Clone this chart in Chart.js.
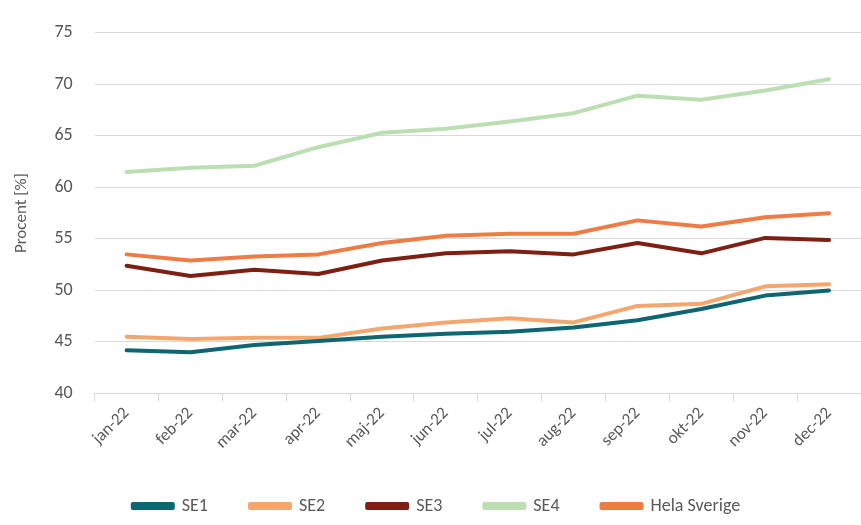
<!DOCTYPE html>
<html>
<head>
<meta charset="utf-8">
<script src="https://cdn.jsdelivr.net/npm/chart.js@4.4.0/dist/chart.umd.min.js"></script>
<style>
  html, body { margin: 0; padding: 0; background: #fff; }
  #wrap { width: 861px; height: 525px; }
</style>
</head>
<body>
<div id="wrap"><canvas id="chart" width="861" height="525"></canvas></div>
<script>
var months = ['jan-22', 'feb-22', 'mar-22', 'apr-22', 'maj-22', 'jun-22', 'jul-22', 'aug-22', 'sep-22', 'okt-22', 'nov-22', 'dec-22'];
var se1 = [44.2, 44.0, 44.7, 45.1, 45.5, 45.8, 46.0, 46.4, 47.1, 48.2, 49.5, 50.0];
var se2 = [45.5, 45.3, 45.4, 45.4, 46.3, 46.9, 47.3, 46.9, 48.5, 48.7, 50.4, 50.6];
var se3 = [52.4, 51.4, 52.0, 51.6, 52.9, 53.6, 53.8, 53.5, 54.6, 53.6, 55.1, 54.9];
var se4 = [61.5, 61.9, 62.1, 63.9, 65.3, 65.7, 66.4, 67.2, 68.9, 68.5, 69.4, 70.5];
var hela = [53.5, 52.9, 53.3, 53.5, 54.6, 55.3, 55.5, 55.5, 56.8, 56.2, 57.1, 57.5];

function serie(label, data, color) {
    return {
        label: label,
        data: data,
        borderColor: color,
        backgroundColor: color,
        borderWidth: 4,
        pointRadius: 0,
        tension: 0,
        borderCapStyle: 'round',
        borderJoinStyle: 'round',
        fill: false
    };
}

var textColor = '#595959';
var font = "Calibri, Carlito, Lato, sans-serif";

new Chart(document.getElementById('chart'), {
    type: 'line',
    data: {
        labels: months,
        datasets: [
            serie('SE1', se1, '#0f6673'),
            serie('SE2', se2, '#f5a66e'),
            serie('SE3', se3, '#7d1f12'),
            serie('SE4', se4, '#bcdeb3'),
            serie('Hela Sverige', hela, '#ee7d45')
        ]
    },
    options: {
        responsive: false,
        animation: false,
        layout: { padding: { left: 12, right: 0, top: 14, bottom: 0 } },
        plugins: {
            legend: {
                position: 'bottom',
                labels: {
                    boxWidth: 40,
                    boxHeight: 4,
                    padding: 42,
                    color: textColor,
                    font: { family: font, size: 18 }
                }
            },
            tooltip: { enabled: false }
        },
        scales: {
            x: {
                offset: true,
                grid: {
                    offset: true,
                    drawOnChartArea: false,
                    drawTicks: true,
                    tickLength: 8,
                    color: '#d9d9d9'
                },
                border: { color: '#d9d9d9', width: 1 },
                ticks: {
                    color: textColor,
                    font: { family: font, size: 17 },
                    minRotation: 45,
                    maxRotation: 45,
                    padding: 2
                }
            },
            y: {
                min: 40,
                max: 75,
                ticks: {
                    stepSize: 5,
                    color: textColor,
                    font: { family: font, size: 18 },
                    padding: 22
                },
                grid: { color: '#d9d9d9', drawTicks: false },
                border: { display: false },
                title: {
                    display: true,
                    text: 'Procent [%]',
                    color: textColor,
                    font: { family: font, size: 17 },
                    padding: 0
                }
            }
        }
    }
});
</script>
</body>
</html>
